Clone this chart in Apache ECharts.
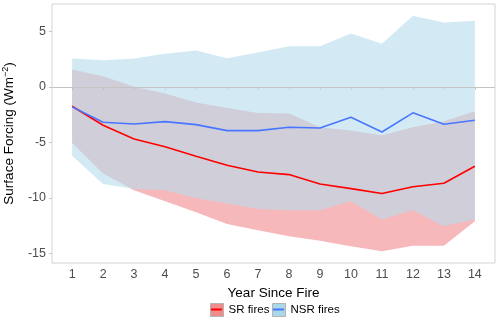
<!DOCTYPE html>
<html><head><meta charset="utf-8">
<script src="https://cdn.jsdelivr.net/npm/echarts@6/dist/echarts.min.js"></script>
<style>html,body{margin:0;padding:0;background:#fff}#c{width:500px;height:331px}</style>
</head><body><div id="c"></div>
<script>
const years = [1,2,3,4,5,6,7,8,9,10,11,12,13,14];
const yTicks = [-15,-10,-5,0,5];
const srMean  = [-1.75,-3.46,-4.7,-5.4,-6.25,-7.06,-7.66,-7.9,-8.74,-9.16,-9.6,-9.0,-8.68,-7.15];
const srUpper = [1.56,0.95,0.0,-0.6,-1.4,-1.9,-2.35,-2.4,-3.64,-3.94,-4.35,-3.64,-3.1,-2.2];
const srLower = [-5.05,-7.8,-9.3,-10.3,-11.3,-12.35,-12.9,-13.45,-13.85,-14.35,-14.8,-14.3,-14.3,-12.1];
const nsrMean  = [-1.8,-3.19,-3.34,-3.13,-3.4,-3.94,-3.94,-3.64,-3.7,-2.74,-4.06,-2.34,-3.37,-3.0];
const nsrUpper = [2.55,2.4,2.55,2.97,3.27,2.58,3.1,3.66,3.66,4.8,3.87,6.4,5.79,5.95];
const nsrLower = [-6.2,-8.75,-9.2,-9.3,-10.03,-10.5,-11.0,-11.1,-11.1,-10.3,-11.95,-11.1,-12.55,-11.95];

const FONT = 'Liberation Sans, Arial, sans-serif';
// data rows are [value, year]; encode maps them so the stacked dimension is the value
function pairs(v){ return years.map((x,i)=>[v[i], x]); }
function diffs(lo, hi){ return years.map((x,i)=>[hi[i]-lo[i], x]); }
const ENC = {x:1, y:0};

function band(name, stack, lo, hi, color){
  return [
    {type:'line', name:name, stack:stack, stackStrategy:'all', data:pairs(lo), encode:ENC, symbol:'none',
     lineStyle:{opacity:0}, silent:true, z:1},
    {type:'line', name:name, stack:stack, stackStrategy:'all', data:diffs(lo,hi), encode:ENC, symbol:'none',
     lineStyle:{opacity:0}, areaStyle:{color:color, opacity:1}, silent:true, z:1}
  ];
}

const chart = echarts.init(document.getElementById('c'), null, {renderer:'canvas'});
const keyLegend = (name, left, fill) => ({
  left:left, top:303, padding:0, itemWidth:13, itemHeight:13, icon:'rect', selectedMode:false,
  data:[name], itemStyle:{color:fill, borderColor:'#b3b3b3', borderWidth:1},
  textStyle:{fontSize:11.5, color:'#000', fontFamily:FONT}
});
const lineLegend = (name, left, col) => ({
  left:left, top:308.5, padding:0, itemWidth:11, itemHeight:2, icon:'rect', selectedMode:false,
  data:[name], itemStyle:{color:col, borderWidth:0}, formatter:()=>'', textStyle:{fontSize:1}
});

chart.setOption({
  animation:false,
  backgroundColor:'#fff',
  grid:{left:52, right:5, top:4, bottom:68, outerBoundsMode:'none', containLabel:false,
        show:true, borderColor:'#d4d4d4', borderWidth:1, backgroundColor:'transparent'},
  legend:[
    keyLegend('SR fires', 210, '#f28b8b'),
    keyLegend('NSR fires', 272, '#aad8ea'),
    lineLegend('SR fires', 211, '#ff0000'),
    lineLegend('NSR fires', 273, '#4876ff')
  ],
  xAxis:{type:'value', min:0.35, max:14.65,
    axisLine:{show:false}, splitLine:{show:false},
    axisTick:{show:true, customValues:years, length:3, lineStyle:{color:'#c8c8c8'}},
    axisLabel:{customValues:years, margin:5, fontSize:12.5, color:'#4d4d4d', fontFamily:FONT},
    name:'Year Since Fire', nameLocation:'middle', nameGap:18,
    nameTextStyle:{fontSize:13.5, color:'#000', fontFamily:FONT}},
  yAxis:{type:'value', min:-15.86, max:7.46,
    axisLine:{show:false}, splitLine:{show:false},
    axisTick:{show:true, customValues:yTicks, length:3, lineStyle:{color:'#c8c8c8'}},
    axisLabel:{customValues:yTicks, margin:6, fontSize:12.5, color:'#4d4d4d', fontFamily:FONT},
    name:'Surface Forcing (Wm{sup|−2})', nameLocation:'middle', nameRotate:90, nameGap:24,
    nameTextStyle:{fontSize:13.5, color:'#000', fontFamily:FONT, lineHeight:16,
      rich:{sup:{fontSize:9, verticalAlign:'top', color:'#000', fontFamily:FONT, lineHeight:16}}}},
  series:[
    ...band('SR fires', 'sr', srLower, srUpper, 'rgba(225,20,30,0.3)'),
    ...band('NSR fires', 'nsr', nsrLower, nsrUpper, 'rgba(182,220,237,0.6)'),
    {type:'line', name:'SR fires', data:pairs(srMean), encode:ENC, symbol:'none', z:3,
     lineStyle:{color:'#ff0000', width:1.6},
     markLine:{silent:true, symbol:'none', label:{show:false}, lineStyle:{color:'#c4c4c4', width:1, type:'solid'},
       data:[{yAxis:0}]}},
    {type:'line', name:'NSR fires', data:pairs(nsrMean), encode:ENC, symbol:'none', z:4,
     lineStyle:{color:'#4876ff', width:1.6}}
  ]
});
</script></body></html>
